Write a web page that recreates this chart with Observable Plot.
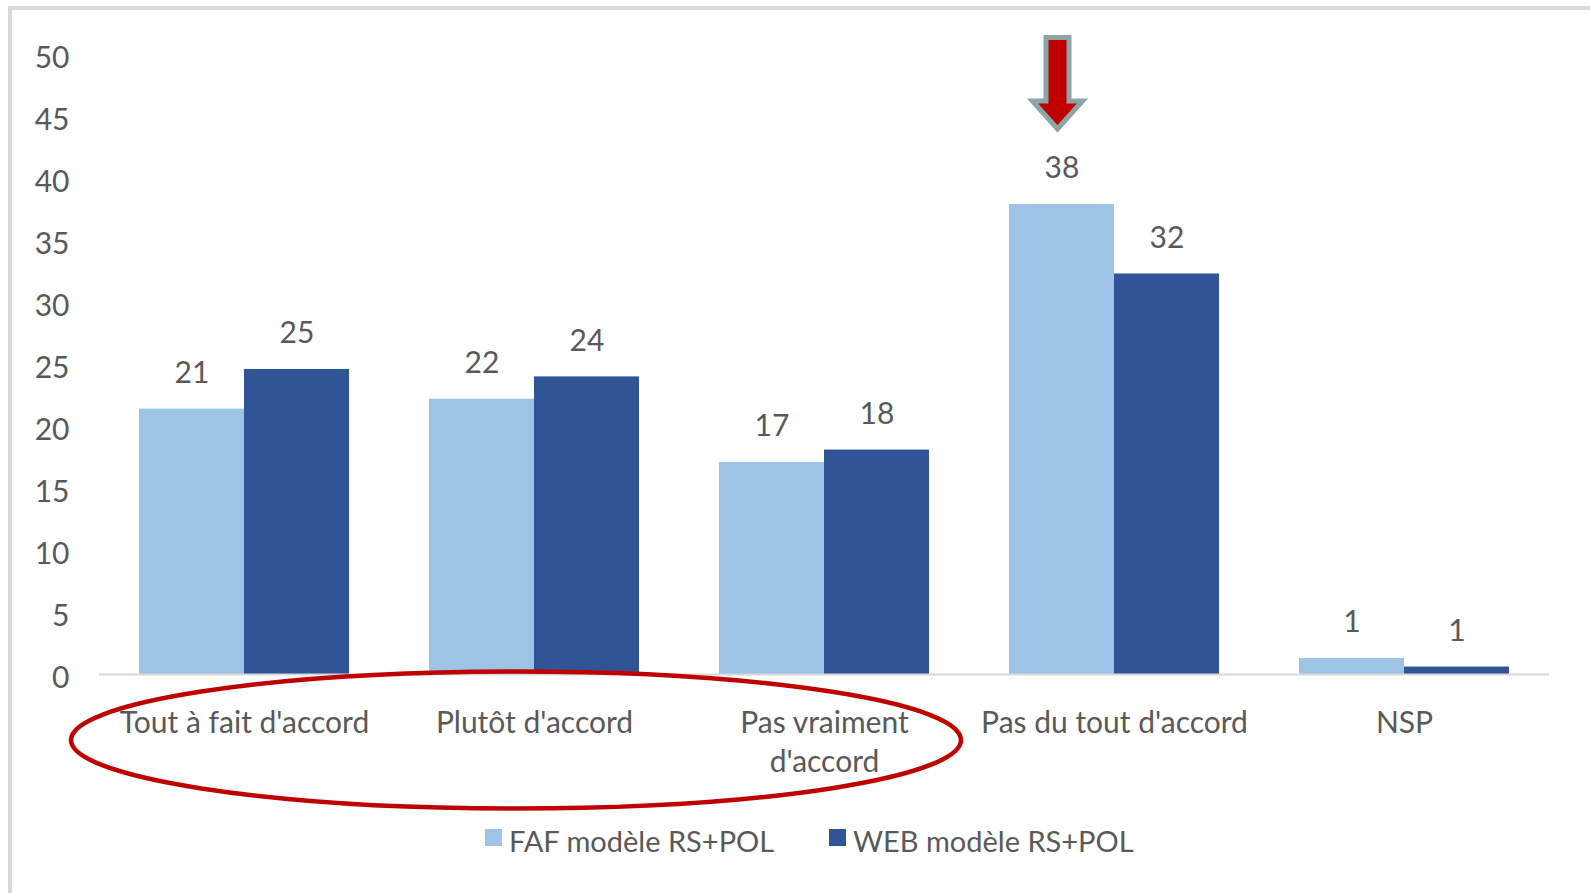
<!DOCTYPE html>
<html>
<head>
<meta charset="utf-8">
<script src="https://cdn.jsdelivr.net/npm/d3@7"></script>
<script src="https://cdn.jsdelivr.net/npm/@observablehq/plot@0.6"></script>
<style>
  html, body { margin: 0; padding: 0; background: #fff; }
  #wrap { position: relative; width: 1590px; height: 893px; overflow: hidden; background: #fff; }
  #border { position: absolute; left: 8px; top: 6px; right: 0; bottom: 0;
            border-left: 4px solid #d9d9d9; border-top: 4px solid #d9d9d9; }
  #chart { position: absolute; left: 0; top: 0; }
  .leg-item { position: absolute; font-family: Lato, sans-serif; font-size: 29px; line-height: 29px; color: #595959; white-space: nowrap; }
  .leg-swatch { position: absolute; width: 17px; height: 17px; }
</style>
</head>
<body>
<div id="wrap">
  <div id="border"></div>
  <div id="chart"></div>
  <div id="legend"></div>
</div>
<script>
// ---- data ----
const categories = ["Tout à fait d'accord", "Plutôt d'accord", "Pas vraiment d'accord", "Pas du tout d'accord", "NSP"];
const categoryLabels = ["Tout à fait d'accord", "Plutôt d'accord", "Pas vraiment\nd'accord", "Pas du tout d'accord", "NSP"];
const series = ["FAF modèle RS+POL", "WEB modèle RS+POL"];
const fafValues = [21.4, 22.2, 17.1, 37.9, 1.3];
const webValues = [24.6, 24.0, 18.1, 32.3, 0.6];
const yTicks = [0, 5, 10, 15, 20, 25, 30, 35, 40, 45, 50];
const seriesColors = ["#9dc3e6", "#2f5597"];

const rows = categories.flatMap((c, i) => [
  {category: c, series: series[0], value: fafValues[i]},
  {category: c, series: series[1], value: webValues[i]}
]);

const textColor = "#595959";

const plot = Plot.plot({
  width: 1590,
  height: 800,
  marginLeft: 97,
  marginRight: 40,
  marginTop: 54,
  marginBottom: 126,
  style: {fontFamily: "Lato, sans-serif", fontSize: "30px", color: textColor, background: "transparent", overflow: "visible"},
  fx: {domain: categories, padding: 0, label: null},
  x: {domain: series, paddingInner: 0, paddingOuter: 0.371, axis: null},
  y: {domain: [0, 50], label: null},
  color: {domain: series, range: seriesColors},
  marks: [
    Plot.axisY(yTicks, {tickSize: 0, tickPadding: 30, dy: 4, fontSize: 30, label: null, fill: textColor}),
    Plot.axisFx({anchor: "bottom", tickSize: 0, tickPadding: 30, fontSize: 30, lineHeight: 1.32, label: null, fill: textColor,
                 tickFormat: c => categoryLabels[categories.indexOf(c)]}),
    Plot.barY(rows, {fx: "category", x: "series", y: "value", fill: "series"}),
    Plot.ruleY([0], {stroke: "#d9d9d9", strokeWidth: 2}),
    Plot.text(rows, {fx: "category", x: "series", y: "value", text: d => Math.round(d.value).toString(),
                     dy: -36, fill: textColor, fontSize: 30})
  ]
});

document.getElementById("chart").appendChild(plot);

// ---- annotations (red ellipse & arrow), positioned from the plot's scales ----
const fxScale = plot.scale("fx"), xScale = plot.scale("x"), yScale = plot.scale("y");
const bandCenter = c => fxScale.apply(c) + fxScale.bandwidth / 2;
const svgSel = d3.select(plot);

const c0 = bandCenter(categories[0]), c2 = bandCenter(categories[2]);
svgSel.append("ellipse")
  .attr("cx", (c0 + c2) / 2 - 18)
  .attr("cy", yScale.apply(0) + 66)
  .attr("rx", (c2 - c0) / 2 + 155)
  .attr("ry", 68.5)
  .attr("fill", "none")
  .attr("stroke", "#c00000")
  .attr("stroke-width", 4.5);

const arrowX = bandCenter(categories[3]) - xScale.bandwidth / 2 - 4;
const barTop = yScale.apply(fafValues[3]);
const arrowTop = barTop - 166.5, headBase = barTop - 103, arrowTip = barTop - 75;
const sw = 11.5, hw = 25;
svgSel.append("path")
  .attr("d", `M${arrowX - sw},${arrowTop}H${arrowX + sw}V${headBase}H${arrowX + hw}L${arrowX},${arrowTip}L${arrowX - hw},${headBase}H${arrowX - sw}Z`)
  .attr("fill", "#c00000")
  .attr("stroke", "#8ca5a5")
  .attr("stroke-width", 5)
  .attr("stroke-linejoin", "miter");

// ---- legend ----
const legendEl = document.getElementById("legend");
const legendLeft = [485, 829];
series.forEach((s, i) => {
  const swatch = document.createElement("div");
  swatch.className = "leg-swatch";
  swatch.style.left = legendLeft[i] + "px";
  swatch.style.top = "829px";
  swatch.style.background = seriesColors[i];
  legendEl.appendChild(swatch);
  const label = document.createElement("div");
  label.className = "leg-item";
  label.style.left = (legendLeft[i] + 24) + "px";
  label.style.top = "826px";
  label.textContent = s;
  legendEl.appendChild(label);
});
</script>
</body>
</html>
